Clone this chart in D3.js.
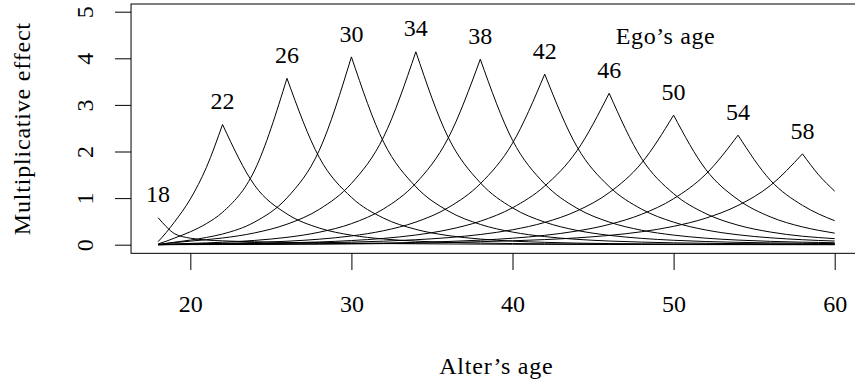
<!DOCTYPE html>
<html>
<head>
<meta charset="utf-8">
<script src="https://cdn.jsdelivr.net/npm/d3@7"></script>
<style>
  body { margin: 0; background: #fff; }
  svg text { font-family: "Liberation Serif", "Times New Roman", serif; fill: #000; }
</style>
</head>
<body>
<div id="chart"></div>
<script>
const alterAges = [18, 18.5, 19, 20, 21, 22, 24, 26, 28, 30, 32, 34, 36, 38, 40, 42, 44, 46, 48, 50, 52, 54, 56, 58, 59, 60];
const egoAges = [18, 22, 26, 30, 34, 38, 42, 46, 50, 54, 58];

// multiplicative effect for each ego age, one value per alter age
const effect18 = [0.58, 0.39, 0.24, 0.14, 0.10, 0.083, 0.062, 0.049, 0.039, 0.031, 0.025, 0.020, 0.016, 0.013, 0.010, 0.008, 0.0065, 0.0052, 0.0042, 0.0034, 0.0027, 0.0022, 0.0018, 0.0014, 0.0012, 0.0011];
const effect22 = [0.065, 0.26, 0.48, 0.98, 1.66, 2.58, 1.27, 0.66, 0.358, 0.204, 0.122, 0.077, 0.050, 0.035, 0.025, 0.019, 0.015, 0.012, 0.0095, 0.0075, 0.006, 0.0047, 0.0037, 0.0029, 0.0026, 0.0023];
const effect26 = [0.016, 0.074, 0.14, 0.277, 0.453, 0.696, 1.603, 3.57, 1.875, 1.017, 0.569, 0.329, 0.196, 0.121, 0.077, 0.0506, 0.0343, 0.024, 0.0174, 0.013, 0.010, 0.008, 0.0066, 0.0056, 0.005, 0.0045];
const effect30 = [0.0062, 0.0282, 0.0521, 0.0991, 0.1555, 0.2296, 0.488, 1.004, 2.021, 4.03, 2.20, 1.243, 0.725, 0.436, 0.271, 0.174, 0.115, 0.0787, 0.0556, 0.0405, 0.0305, 0.0237, 0.019, 0.0149, 0.0128, 0.011];
const effect34 = [0.0059, 0.0256, 0.0447, 0.0762, 0.108, 0.144, 0.254, 0.440, 0.758, 1.314, 2.313, 4.14, 2.309, 1.329, 0.790, 0.485, 0.307, 0.201, 0.136, 0.0949, 0.0683, 0.0508, 0.039, 0.031, 0.027, 0.0235];
const effect38 = [0.0021, 0.0092, 0.0161, 0.0276, 0.0391, 0.0524, 0.0922, 0.158, 0.2675, 0.4517, 0.769, 1.319, 2.283, 3.98, 2.242, 1.304, 0.783, 0.486, 0.311, 0.206, 0.140, 0.099, 0.072, 0.054, 0.048, 0.042];
const effect42 = [0.0013, 0.0056, 0.0096, 0.0159, 0.0218, 0.0282, 0.0464, 0.0745, 0.1182, 0.1877, 0.3005, 0.486, 0.7935, 1.308, 2.178, 3.66, 2.103, 1.248, 0.765, 0.484, 0.316, 0.213, 0.148, 0.107, 0.091, 0.079];
const effect46 = [0.0008, 0.0034, 0.0058, 0.0094, 0.0126, 0.016, 0.0252, 0.0387, 0.0587, 0.0889, 0.1354, 0.208, 0.3226, 0.504, 0.793, 1.259, 2.015, 3.25, 1.856, 1.095, 0.667, 0.419, 0.272, 0.182, 0.153, 0.13];
const effect50 = [0.0011, 0.0044, 0.0073, 0.011, 0.0137, 0.0162, 0.0223, 0.0302, 0.0407, 0.0552, 0.076, 0.1063, 0.1513, 0.2185, 0.3205, 0.478, 0.725, 1.117, 1.748, 2.78, 1.614, 0.967, 0.598, 0.382, 0.308, 0.248];
const effect54 = [0.0005, 0.0021, 0.0035, 0.0053, 0.0066, 0.0078, 0.0108, 0.0147, 0.0197, 0.0264, 0.036, 0.0495, 0.069, 0.0974, 0.1389, 0.2008, 0.2935, 0.4346, 0.651, 0.9866, 1.514, 2.35, 1.386, 0.844, 0.66, 0.515];
const effect58 = [0.0002, 0.0009, 0.0015, 0.0024, 0.0031, 0.0039, 0.0058, 0.0084, 0.0119, 0.0167, 0.0235, 0.033, 0.0464, 0.0651, 0.0836, 0.1094, 0.1462, 0.1995, 0.2775, 0.394, 0.570, 0.842, 1.268, 1.95, 1.50, 1.15];

const xTicks = [20, 30, 40, 50, 60];
const yTicks = [0, 1, 2, 3, 4, 5];

const effects = [effect18, effect22, effect26, effect30, effect34, effect38, effect42, effect46, effect50, effect54, effect58];

const width = 855, height = 383;
const svg = d3.select("#chart")
  .append("svg")
    .attr("width", width)
    .attr("height", height);

// Scales
const x = d3.scaleLinear().domain([18, 60]).range([158.1, 834.7]);
const y = d3.scaleLinear().domain([0, 5]).range([244.7, 11.7]);

// Plot box, R style (4% padding around data range)
const boxLeft = x(16.32), boxRight = x(61.68);
const boxTop = y(5.165), boxBottom = y(-0.185);
svg.append("rect")
  .attr("x", boxLeft)
  .attr("y", boxTop)
  .attr("width", boxRight - boxLeft)
  .attr("height", boxBottom - boxTop)
  .attr("fill", "none")
  .attr("stroke", "#000")
  .attr("stroke-width", 1);

// X axis
const gx = svg.append("g")
  .attr("transform", `translate(0,${boxBottom})`)
  .call(d3.axisBottom(x).tickValues(xTicks).tickFormat(d3.format("d")).tickSize(16.7));
gx.select(".domain").remove();
gx.attr("font-size", null).attr("font-family", null);
gx.selectAll("text")
  .attr("y", 58.7)
  .attr("dy", null)
  .style("font-size", "24px");

// Y axis, labels parallel to the axis
const gy = svg.append("g")
  .attr("transform", `translate(${boxLeft},0)`)
  .call(d3.axisLeft(y).tickValues(yTicks).tickFormat(d3.format("d")).tickSize(16));
gy.select(".domain").remove();
gy.attr("font-size", null).attr("font-family", null);
gy.selectAll("text")
  .attr("x", null)
  .attr("dy", null)
  .attr("text-anchor", "middle")
  .attr("transform", "translate(-37.7,0) rotate(-90)")
  .style("font-size", "24px");

// Curves: each ego's curve drawn as two branches so the peak stays sharp
const line = d3.line()
  .x(d => x(d[0]))
  .y(d => y(d[1]))
  .curve(d3.curveMonotoneX);

egoAges.forEach((ego, i) => {
  const pts = alterAges.map((a, j) => [a, effects[i][j]]);
  const left = pts.filter(p => p[0] <= ego);
  const right = pts.filter(p => p[0] >= ego);
  [left, right].forEach(seg => {
    if (seg.length < 2) return;
    svg.append("path")
      .datum(seg)
      .attr("fill", "none")
      .attr("stroke", "#000")
      .attr("stroke-width", 1)
      .attr("d", line);
  });
  // ego label above the peak
  const peak = effects[i][alterAges.indexOf(ego)];
  svg.append("text")
    .attr("x", x(ego))
    .attr("y", y(peak + 0.5) + 8)
    .attr("text-anchor", "middle")
    .style("font-size", "24px")
    .text(ego);
});

// Texts
svg.append("text")
  .attr("x", x(49.5))
  .attr("y", y(4.47) + 8)
  .attr("text-anchor", "middle")
  .style("font-size", "24px")
  .style("letter-spacing", "0.6px")
  .text("Ego’s age");

svg.append("text")
  .attr("x", (boxLeft + boxRight) / 2)
  .attr("y", 374)
  .attr("text-anchor", "middle")
  .style("font-size", "24px")
  .style("letter-spacing", "0.8px")
  .text("Alter’s age");

svg.append("text")
  .attr("transform", `translate(29.5,${(boxTop + boxBottom) / 2}) rotate(-90)`)
  .attr("text-anchor", "middle")
  .style("font-size", "24px")
  .style("letter-spacing", "0.8px")
  .text("Multiplicative effect");
</script>
</body>
</html>
